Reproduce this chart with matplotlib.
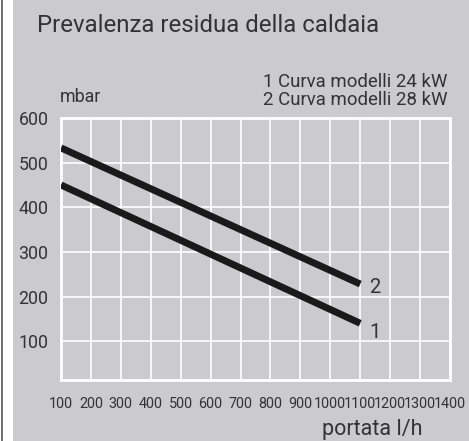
import matplotlib
matplotlib.use("Agg")
import matplotlib.pyplot as plt
from matplotlib.patches import Rectangle
from matplotlib.lines import Line2D

# Flow rate (l/h) and residual head (mbar) for the two boiler models
portata = [100, 1100]
curva_24kw = [450, 140]
curva_28kw = [533, 228]
x_ticks = [100, 200, 300, 400, 500, 600, 700, 800, 900, 1000, 1100, 1200, 1300, 1400]
y_ticks = [100, 200, 300, 400, 500, 600]

BG = "#cbcbce"
TXT = "#333333"
FONT = "Roboto"
NARROW = "Liberation Sans Narrow"

fig = plt.figure(figsize=(4.69, 4.41), dpi=100)
fig.patch.set_facecolor("white")

# grey panel with a thin dark rule at the left edge
fig.add_artist(Rectangle((13 / 469, 0), 1 - 13 / 469, 1, transform=fig.transFigure,
                         facecolor=BG, edgecolor="none", zorder=0))
fig.add_artist(Line2D([1.5 / 469, 1.5 / 469], [0, 1], transform=fig.transFigure,
                      color="#555555", lw=1.2, zorder=1))

ax = fig.add_axes([61 / 469, 1 - 380 / 441, (450 - 61) / 469, (380 - 118) / 441])
ax.set_facecolor(BG)
ax.set_xlim(100, 1400)
ax.set_ylim(13, 600)
ax.set_xticks(x_ticks)
ax.set_yticks(y_ticks)
ax.grid(True, color="white", lw=1.2)
ax.set_axisbelow(True)
for s in ax.spines.values():
    s.set_color("white")
    s.set_linewidth(2)
ax.tick_params(length=0, colors=TXT)
ax.tick_params(axis="y", pad=9, labelsize=12.8)
ax.tick_params(axis="x", pad=12, labelsize=10.4)
for lab in ax.get_yticklabels():
    lab.set_fontfamily(FONT)
for lab in ax.get_xticklabels():
    lab.set_fontfamily([NARROW, FONT])

ax.plot(portata, curva_28kw, color="#1a1a1a", lw=5, solid_capstyle="butt", zorder=3)
ax.plot(portata, curva_24kw, color="#1a1a1a", lw=5, solid_capstyle="butt", zorder=3)
ax.text(1150, curva_28kw[-1] - 8, "2", fontsize=14.5, color=TXT, family=FONT, va="center", ha="center")
ax.text(1150, curva_24kw[-1] - 20, "1", fontsize=14.5, color=TXT, family=FONT, va="center", ha="center")

fig.text(37 / 469, 1 - 25 / 441, "Prevalenza residua della caldaia", fontsize=17.3,
         color=TXT, family=FONT, va="center", ha="left")
fig.text(447 / 469, 1 - 82 / 441, "1 Curva modelli 24 kW", fontsize=13.4,
         color=TXT, family=FONT, va="center", ha="right")
fig.text(447 / 469, 1 - 100 / 441, "2 Curva modelli 28 kW", fontsize=13.4,
         color=TXT, family=FONT, va="center", ha="right")
fig.text(60 / 469, 1 - 97 / 441, "mbar", fontsize=12.8, color=TXT, family=FONT,
         va="center", ha="left")
fig.text(422 / 469, 1 - 430 / 441, "portata l/h", fontsize=15.5, color=TXT, family=FONT,
         va="center", ha="right")

fig.savefig("out.png", dpi=100, facecolor=fig.get_facecolor())
